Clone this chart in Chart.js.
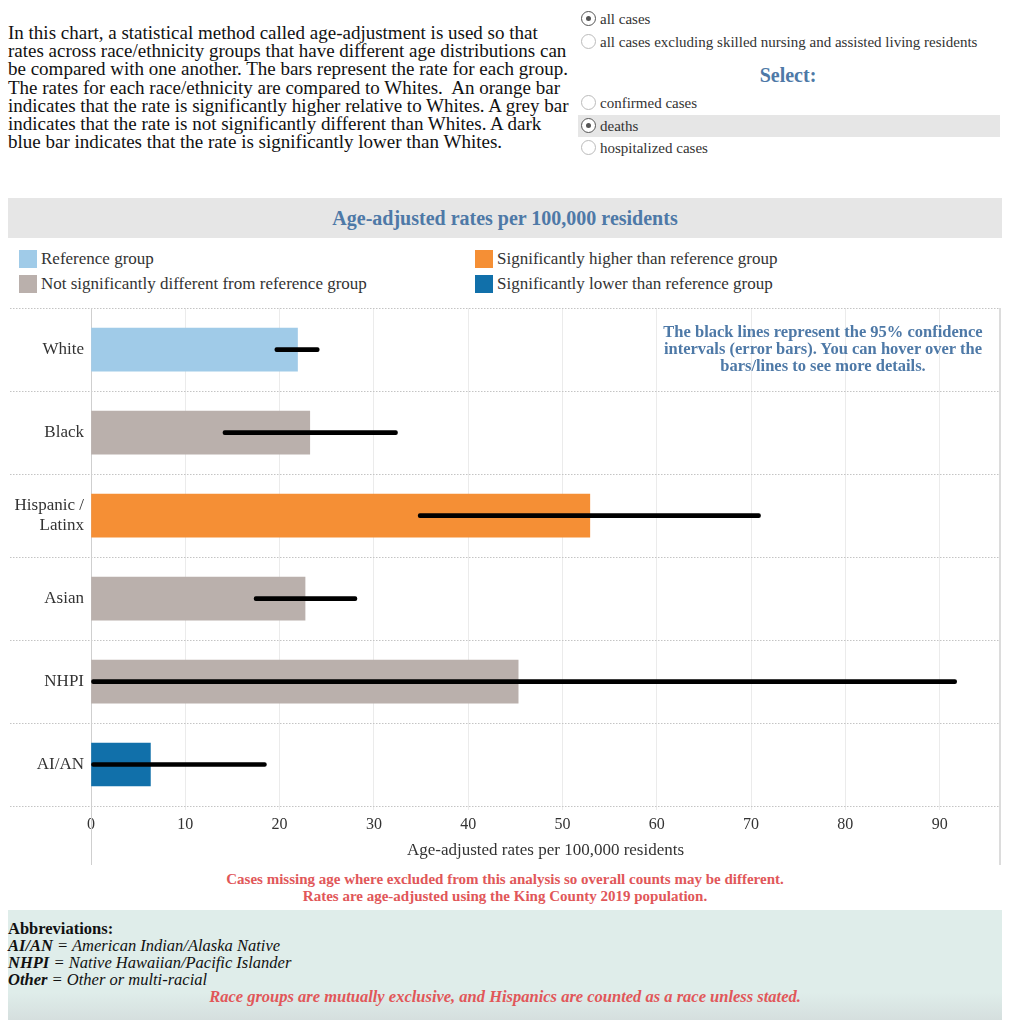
<!DOCTYPE html>
<html>
<head>
<meta charset="utf-8">
<script src="https://cdn.jsdelivr.net/npm/chart.js@4.4.0/dist/chart.umd.min.js"></script>
<style>
body { margin:0; width:1010px; height:1024px; position:relative; overflow:hidden; background:#fff; font-family:"Liberation Serif", serif; color:#111; }
.abs { position:absolute; }
#intro { left:8px; top:24px; font-size:19px; line-height:18.2px; white-space:nowrap; }
.radio { position:absolute; left:578px; height:22px; width:422px; font-size:15px; line-height:22px; color:#333; }
.radio .dot { position:absolute; left:3px; top:3px; width:15px; height:15px; border:1px solid #bbb; border-radius:50%; box-sizing:border-box; background:#fff; }
.radio.on .dot { border:1.5px solid #555; }
.radio.on .dot::after { content:""; position:absolute; left:3.5px; top:3.5px; width:5px; height:5px; border-radius:50%; background:#555; }
.radio span.t { position:absolute; left:22px; top:0; }
#select { left:578px; width:420px; top:64px; text-align:center; font-size:20px; font-weight:bold; color:#4e79a7; }
#band { left:8px; top:198px; width:994px; height:40px; background:#e6e6e6; text-align:center; font-size:20px; line-height:40px; font-weight:bold; color:#4e79a7; }
.leg { position:absolute; font-size:17px; line-height:20px; color:#333; }
.leg i { position:absolute; left:-22px; top:1px; width:18px; height:18px; }
#note { left:590px; width:466px; top:323px; text-align:center; font-size:16.5px; line-height:17px; font-weight:bold; color:#4e79a7; }
#wrap { left:0; top:291px; width:1000px; height:579px; }
#edge { left:999px; top:308px; width:2px; height:557px; background:#dcdcdc; }
.red { left:0; width:1010px; text-align:center; font-size:15px; font-weight:bold; color:#e15759; }
#abbr { left:8px; top:910px; width:994px; height:110px; background:linear-gradient(#dfedea 0%, #dfedea 75%, #d5dfde 100%); font-size:16.5px; line-height:17px; }
</style>
</head>
<body>

<div id="intro" class="abs">In this chart, a statistical method called age-adjustment is used so that<br>rates across race/ethnicity groups that have different age distributions can<br>be compared with one another. The bars represent the rate for each group.<br>The rates for each race/ethnicity are compared to Whites.&nbsp; An orange bar<br>indicates that the rate is significantly higher relative to Whites. A grey bar<br>indicates that the rate is not significantly different than Whites. A dark<br>blue bar indicates that the rate is significantly lower than Whites.</div>

<div class="radio on" style="top:8px"><span class="dot"></span><span class="t">all cases</span></div>
<div class="radio" style="top:31px"><span class="dot"></span><span class="t">all cases excluding skilled nursing and assisted living residents</span></div>
<div id="select" class="abs">Select:</div>
<div class="radio" style="top:92px"><span class="dot"></span><span class="t">confirmed cases</span></div>
<div class="radio on" style="top:115px;background:#e6e6e6"><span class="dot"></span><span class="t">deaths</span></div>
<div class="radio" style="top:137px"><span class="dot"></span><span class="t">hospitalized cases</span></div>

<div id="band" class="abs">Age-adjusted rates per 100,000 residents</div>

<div class="leg" style="left:41px;top:249px"><i style="background:#a0cbe8"></i>Reference group</div>
<div class="leg" style="left:41px;top:274px"><i style="background:#bab0ac"></i>Not significantly different from reference group</div>
<div class="leg" style="left:497px;top:249px"><i style="background:#f58f35"></i>Significantly higher than reference group</div>
<div class="leg" style="left:497px;top:274px"><i style="background:#1170aa"></i>Significantly lower than reference group</div>

<div id="wrap" class="abs"><canvas id="chart"></canvas></div>
<div id="edge" class="abs"></div>
<div id="note" class="abs">The black lines represent the 95% confidence<br>intervals (error bars). You can hover over the<br>bars/lines to see more details.</div>

<div class="abs red" style="top:871px">Cases missing age where excluded from this analysis so overall counts may be different.</div>
<div class="abs red" style="top:888px">Rates are age-adjusted using the King County 2019 population.</div>

<div id="abbr" class="abs">
  <div style="position:absolute;left:0;top:10px;font-weight:bold">Abbreviations:</div>
  <div style="position:absolute;left:0;top:27px;font-style:italic"><b>AI/AN</b> = American Indian/Alaska Native</div>
  <div style="position:absolute;left:0;top:44px;font-style:italic"><b>NHPI</b> = Native Hawaiian/Pacific Islander</div>
  <div style="position:absolute;left:0;top:61px;font-style:italic"><b>Other</b> = Other or multi-racial</div>
  <div style="position:absolute;left:0;width:994px;top:78px;text-align:center;font-style:italic;font-weight:bold;font-size:16.5px;color:#e15759">Race groups are mutually exclusive, and Hispanics are counted as a race unless stated.</div>
</div>

<script>
// Data
var categories = ['White', 'Black', ['Hispanic /', 'Latinx'], 'Asian', 'NHPI', 'AI/AN'];
var rates = [21.9, 23.2, 52.9, 22.7, 45.3, 6.3];
var ciLow = [19.5, 14.0, 34.7, 17.3, 0, 0];
var ciHigh = [24.2, 32.5, 71.0, 28.2, 91.8, 18.6];
var barColors = ['#a0cbe8', '#bab0ac', '#f58f35', '#bab0ac', '#bab0ac', '#1170aa'];
var xTicks = [0, 10, 20, 30, 40, 50, 60, 70, 80, 90];

var ciData = ciLow.map(function (lo, i) { return [lo, ciHigh[i]]; });

// dotted row separators + left axis line
var rowLines = {
  id: 'rowLines',
  beforeDatasetsDraw: function (chart) {
    var ctx = chart.ctx, y = chart.scales.y, a = chart.chartArea;
    ctx.save();
    ctx.strokeStyle = '#c4c4c4';
    ctx.lineWidth = 1;
    ctx.setLineDash([1.5, 1.5]);
    for (var i = 0; i <= categories.length; i++) {
      var py = Math.round(y.getPixelForValue(i - 0.5)) + 0.5;
      ctx.beginPath();
      ctx.moveTo(10, py);
      ctx.lineTo(a.right, py);
      ctx.stroke();
    }
    ctx.setLineDash([]);
    ctx.strokeStyle = '#cfcfcf';
    ctx.beginPath();
    ctx.moveTo(a.left + 0.5, a.top);
    ctx.lineTo(a.left + 0.5, chart.height - 5);
    ctx.stroke();
    ctx.restore();
  }
};

var chart = new Chart(document.getElementById('chart'), {
  type: 'bar',
  data: {
    labels: categories,
    datasets: [{
      label: '95% CI',
      data: ciData,
      backgroundColor: '#000',
      barThickness: 4,
      borderRadius: 2,
      borderSkipped: false,
      grouped: false,
      order: 0
    }, {
      label: 'Rate',
      data: rates,
      backgroundColor: barColors,
      barThickness: 43,
      grouped: false,
      order: 1
    }]
  },
  options: {
    indexAxis: 'y',
    responsive: true,
    maintainAspectRatio: false,
    animation: false,
    layout: { padding: { top: 0, right: 0, bottom: 0, left: 0 } },
    plugins: { legend: { display: false }, tooltip: { enabled: false } },
    scales: {
      x: {
        min: 0,
        max: 96.4,
        afterBuildTicks: function (s) {
          s.ticks = xTicks.map(function (v) { return { value: v }; });
        },
        afterFit: function (s) { s.height = 64; },
        grid: { color: '#ebebeb', drawTicks: true, tickLength: 4, tickColor: '#ebebeb' },
        border: { display: false },
        ticks: { font: { family: 'Liberation Serif', size: 16 }, color: '#333', padding: 5, maxRotation: 0 },
        title: {
          display: true,
          text: 'Age-adjusted rates per 100,000 residents',
          font: { family: 'Liberation Serif', size: 17 },
          color: '#333',
          padding: { top: 4, bottom: 9 }
        }
      },
      y: {
        afterFit: function (s) { s.width = 91; },
        grid: { display: false, drawTicks: false },
        border: { display: false },
        ticks: { font: { family: 'Liberation Serif', size: 17 }, color: '#333', padding: 7 }
      }
    }
  },
  plugins: [rowLines]
});
</script>
</body>
</html>
